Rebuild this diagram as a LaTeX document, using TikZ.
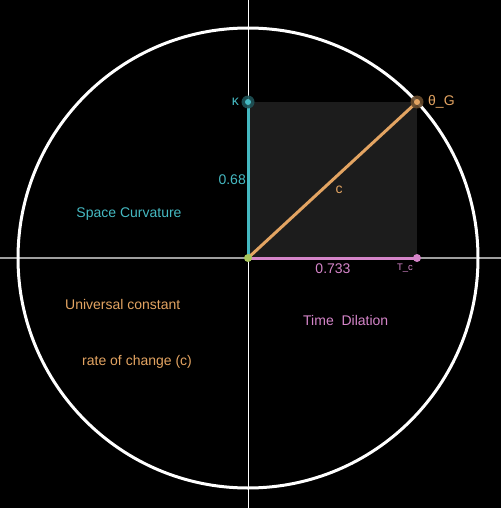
\documentclass[tikz,border=0pt]{standalone}
\usepackage{fontspec}
\setmainfont{Liberation Sans}
\definecolor{teal2}{HTML}{45B9C2}
\definecolor{org}{HTML}{E3A462}
\definecolor{pnk}{HTML}{D585C9}
\definecolor{grn}{HTML}{A8C65C}
\definecolor{boxfill}{HTML}{1C1C1C}
\tikzset{
  lbl/.style={font=\fontsize{14}{16}\selectfont, inner sep=0pt},
  small/.style={font=\fontsize{9.5}{11}\selectfont, inner sep=0pt},
  seg/.style={line width=3pt},
}
\begin{document}
\begin{tikzpicture}[x=1pt,y=-1pt]
\fill[black] (0,0) rectangle (501,508);
\useasboundingbox (0,0) rectangle (501,508);
% coordinates
\coordinate (O) at (248,258);
\coordinate (K) at (248,102);
\coordinate (G) at (417,102);
\coordinate (T) at (417,258);
% box
\fill[boxfill] (K) rectangle (T);
% axes
\draw[gray!75, line width=2pt] (0,258) -- (501,258);
\draw[white, line width=1pt] (248,0) -- (248,508);
% circle
\draw[white, line width=3pt] (O) circle (230);
% segments
\draw[seg, teal2] (O) -- (K);
\draw[seg, pnk] (O) -- (T);
\draw[seg, org] (O) -- (G);
% points
\fill[teal2!45!black, opacity=0.9] (K) circle (6.5);
\fill[teal2] (K) circle (3);
\fill[org!45!black, opacity=0.9] (G) circle (6.5);
\fill[org] (G) circle (3);
\fill[grn] (O) circle (4);
\fill[pnk] (T) circle (4);
% labels
\node[lbl, text=teal2, anchor=east] (kl) at (239,102) {κ};
\node[lbl, text=org, anchor=west] (gl) at (428,102) {θ\_G};
\node[lbl, text=teal2, anchor=east] (v1) at (246,180) {0.68};
\node[lbl, text=org] (cl) at (339,190) {c};
\node[lbl, text=pnk] (v2) at (333,269) {0.733};
\node[small, text=pnk] (tl) at (405,268) {T\_c};
\node[lbl, text=teal2] (sc) at (129,214) {Space Curvature};
\node[lbl, text=org, anchor=west] (uc) at (65,304) {Universal constant};
\node[lbl, text=org, anchor=west] (rc) at (82,362) {rate of change (c)};
\node[lbl, text=pnk, anchor=west] (td) at (303,320) {Time\ \ Dilation};
\end{tikzpicture}
\end{document}
